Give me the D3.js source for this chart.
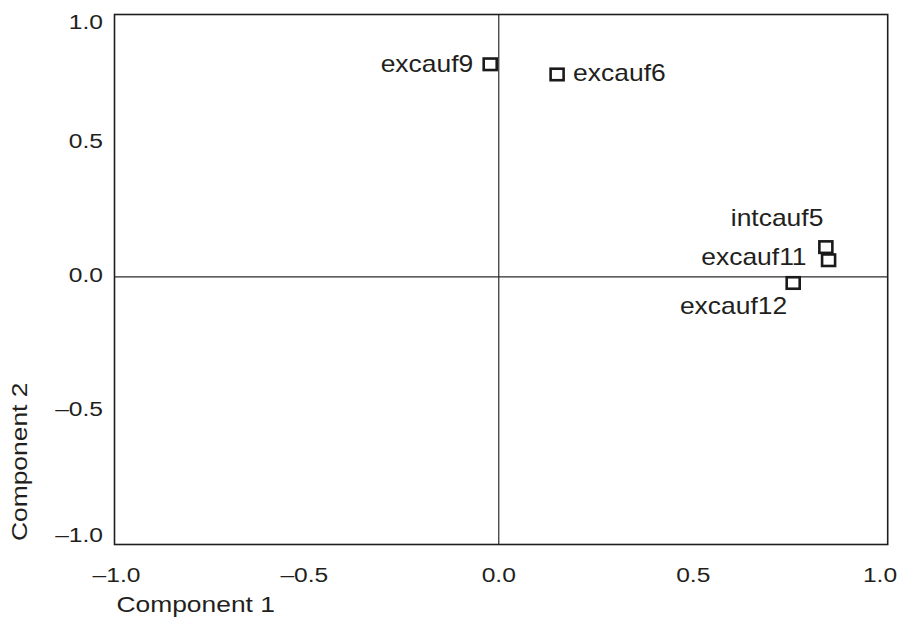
<!DOCTYPE html>
<html>
<head>
<meta charset="utf-8">
<script src="https://cdn.jsdelivr.net/npm/d3@7/dist/d3.min.js"></script>
<style>
  html, body { margin: 0; padding: 0; background: #ffffff; }
  svg { display: block; }
  text { font-family: "Liberation Sans", Arial, Helvetica, sans-serif; fill: #231f20; }
</style>
</head>
<body>
<svg id="chart" width="900" height="628"></svg>
<script>
// ---- data ----
const variables = ["excauf9", "excauf6", "intcauf5", "excauf11", "excauf12"];
const component1 = [-0.022, 0.150, 0.841, 0.848, 0.757];
const component2 = [0.794, 0.756, 0.111, 0.062, -0.023];
const tickValues = [-1.0, -0.5, 0.0, 0.5, 1.0];
const tickLabels = ["\u20131.0", "\u20130.5", "0.0", "0.5", "1.0"];
const xTitle = "Component 1";
const yTitle = "Component 2";

// ---- layout (not data) ----
const labelPlacement = {
  excauf9:  { anchor: "end",   dx: -17,  dy: 8 },
  excauf6:  { anchor: "start", dx: 16,   dy: 7 },
  intcauf5: { anchor: "end",   dx: -2.5, dy: -21 },
  excauf11: { anchor: "end",   dx: -22,  dy: 4.7 },
  excauf12: { anchor: "end",   dx: -6,   dy: 31 }
};
const stretchTick = 1.2, stretchLabel = 1.15, stretchTitle = 1.2;

(function () {
const svg = d3.select("#chart");

const x = d3.scaleLinear().domain([-0.988, 1.0]).range([114.5, 887.7]);
const y = d3.scaleLinear().domain([-1.0, 0.98]).range([544.5, 14.5]);
const [pLeft, pRight] = x.range();
const [pBottom, pTop] = y.range();

// zero reference lines
svg.append("line")
  .attr("x1", x(0)).attr("x2", x(0)).attr("y1", pTop).attr("y2", pBottom)
  .attr("stroke", "#2b2b2b").attr("stroke-width", 1.2);
svg.append("line")
  .attr("x1", pLeft).attr("x2", pRight).attr("y1", y(0)).attr("y2", y(0))
  .attr("stroke", "#2b2b2b").attr("stroke-width", 1.2);

// frame
svg.append("rect")
  .attr("x", pLeft).attr("y", pTop)
  .attr("width", pRight - pLeft).attr("height", pBottom - pTop)
  .attr("fill", "none").attr("stroke", "#1e1e1e").attr("stroke-width", 1.6);

// x axis
const xAxis = svg.append("g").attr("transform", "translate(0,582)")
  .call(d3.axisBottom(x).tickValues(tickValues).tickSize(0)
    .tickFormat((d, i) => tickLabels[i]));
xAxis.select(".domain").remove();
xAxis.selectAll(".tick").attr("transform", d => {
  const cx = Math.max(pLeft + 2, Math.min(pRight - 7.7, x(d)));
  return `translate(${cx},0)`;
});
xAxis.selectAll("text")
  .attr("y", 0).attr("dy", null)
  .attr("font-size", 20.5)
  .attr("font-family", "Liberation Sans, Arial, sans-serif")
  .attr("fill", "#231f20")
  .attr("transform", `scale(${stretchTick},1)`);

// y axis
const yAxis = svg.append("g").attr("transform", "translate(103,0)")
  .call(d3.axisLeft(y).tickValues(tickValues).tickSize(0)
    .tickFormat((d, i) => tickLabels[i]));
yAxis.select(".domain").remove();
yAxis.selectAll(".tick").attr("transform", d => {
  const by = Math.max(pTop + 14.8, Math.min(pBottom - 2.5, y(d) + 5.5));
  return `translate(0,${by})`;
});
yAxis.selectAll("text")
  .attr("x", 0).attr("y", 0).attr("dy", null)
  .attr("font-size", 20.5)
  .attr("font-family", "Liberation Sans, Arial, sans-serif")
  .attr("fill", "#231f20")
  .attr("transform", `scale(${stretchTick},1)`);

// axis titles
svg.append("text")
  .attr("transform", `translate(116.5,612) scale(${stretchTitle},1)`)
  .attr("font-size", 22)
  .text(xTitle);
svg.append("text")
  .attr("transform", `translate(27,541) rotate(-90) scale(${stretchTitle},1)`)
  .attr("font-size", 22)
  .text(yTitle);

// points
const points = variables.map((v, i) => ({ name: v, c1: component1[i], c2: component2[i] }));
const markW = 13, markH = 11.5;
svg.append("g").selectAll("rect")
  .data(points).join("rect")
  .attr("x", d => x(d.c1) - markW / 2)
  .attr("y", d => y(d.c2) - markH / 2)
  .attr("width", markW).attr("height", markH)
  .attr("fill", "none").attr("stroke", "#1a1a1a").attr("stroke-width", 2.6);

// point labels
svg.append("g").selectAll("text")
  .data(points).join("text")
  .attr("transform", d => {
    const p = labelPlacement[d.name];
    return `translate(${x(d.c1) + p.dx},${y(d.c2) + p.dy}) scale(${stretchLabel},1)`;
  })
  .attr("text-anchor", d => labelPlacement[d.name].anchor)
  .attr("font-size", 23)
  .text(d => d.name);
})();
</script>
</body>
</html>
